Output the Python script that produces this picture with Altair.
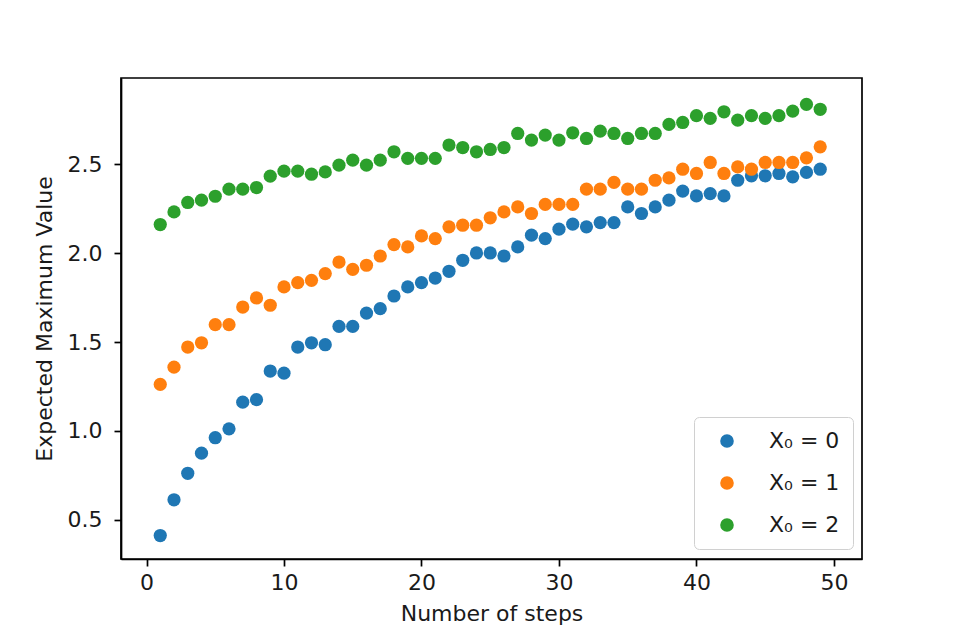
import altair as alt
import pandas as pd

steps = list(range(1, 50))

x0_0 = [0.412, 0.613, 0.762, 0.875, 0.962, 1.012, 1.162, 1.176, 1.337, 1.325,
        1.472, 1.496, 1.485, 1.588, 1.588, 1.663, 1.688, 1.759, 1.810, 1.834,
        1.860, 1.898, 1.960, 2.001, 2.001, 1.984, 2.035, 2.101, 2.082, 2.135,
        2.163, 2.148, 2.172, 2.172, 2.260, 2.223, 2.260, 2.298, 2.349, 2.322,
        2.335, 2.322, 2.410, 2.435, 2.435, 2.448, 2.429, 2.454, 2.472]

x0_1 = [1.262, 1.359, 1.472, 1.496, 1.598, 1.598, 1.697, 1.748, 1.707, 1.810,
        1.834, 1.847, 1.885, 1.950, 1.909, 1.932, 1.984, 2.048, 2.035, 2.097,
        2.082, 2.148, 2.157, 2.157, 2.199, 2.232, 2.260, 2.223, 2.274, 2.274,
        2.274, 2.360, 2.360, 2.398, 2.360, 2.360, 2.410, 2.423, 2.472, 2.448,
        2.510, 2.448, 2.485, 2.472, 2.510, 2.510, 2.510, 2.536, 2.598]

x0_2 = [2.161, 2.232, 2.285, 2.298, 2.320, 2.360, 2.360, 2.369, 2.433, 2.461,
        2.461, 2.444, 2.457, 2.495, 2.523, 2.495, 2.523, 2.570, 2.533, 2.533,
        2.533, 2.608, 2.594, 2.570, 2.583, 2.594, 2.673, 2.636, 2.664, 2.636,
        2.677, 2.645, 2.686, 2.673, 2.645, 2.673, 2.673, 2.724, 2.735, 2.773,
        2.758, 2.795, 2.748, 2.773, 2.758, 2.773, 2.799, 2.837, 2.809]

series_labels = ["X\u2080 = 0", "X\u2080 = 1", "X\u2080 = 2"]
colors = ["#1f77b4", "#ff7f0e", "#2ca02c"]
x_ticks = [0, 10, 20, 30, 40, 50]
y_ticks = [0.5, 1.0, 1.5, 2.0, 2.5]

rows = []
for lab, vals in zip(series_labels, [x0_0, x0_1, x0_2]):
    for s, v in zip(steps, vals):
        rows.append({"steps": s, "value": v, "series": lab})
df = pd.DataFrame(rows)

FONT = "DejaVu Sans"
TXT = "#1a1a1a"

chart = alt.Chart(df).mark_circle(size=175, opacity=1).encode(
    x=alt.X(
        "steps:Q",
        scale=alt.Scale(domain=[-1.855, 52.04], nice=False, zero=False),
        axis=alt.Axis(
            values=x_ticks, format="d", title="Number of steps", grid=False,
            labelFontSize=22, titleFontSize=22, titleFontWeight="normal",
            labelFont=FONT, titleFont=FONT, labelColor=TXT, titleColor=TXT,
            tickSize=7, tickWidth=1.7, tickColor="black", domainColor="black",
            domainWidth=1.7, labelPadding=6, titleY=44, titleBaseline="top",
            labelFlush=False,
        ),
    ),
    y=alt.Y(
        "value:Q",
        scale=alt.Scale(domain=[0.280, 2.985], nice=False, zero=False),
        axis=alt.Axis(
            values=y_ticks, format=".1f", title="Expected Maximum Value", grid=False,
            labelFontSize=22, titleFontSize=22, titleFontWeight="normal",
            labelFont=FONT, titleFont=FONT, labelColor=TXT, titleColor=TXT,
            tickSize=7, tickWidth=1.7, tickColor="black", domainColor="black",
            domainWidth=1.7, labelPadding=12, titleX=-77, titleBaseline="middle",
            labelFlush=False,
        ),
    ),
    color=alt.Color(
        "series:N",
        scale=alt.Scale(domain=series_labels, range=colors),
        legend=alt.Legend(
            title=None, orient="none", legendX=573, legendY=339,
            padding=13, symbolOffset=9, labelOffset=31, rowPadding=20,
            symbolSize=185, symbolType="circle", symbolStrokeWidth=0,
            labelFontSize=22, labelFont=FONT, labelColor=TXT,
            strokeColor="#d0d0d0", cornerRadius=5,
            fillColor="rgba(255,255,255,0.8)",
        ),
    ),
).properties(
    width=741,
    height=481,
    autosize=alt.AutoSizeParams(type="none"),
    padding={"left": 113, "top": 70, "right": 20, "bottom": 70},
    background="white",
).configure_view(
    stroke="black", strokeWidth=1.7
)

chart.save("out.html", embed_options={"renderer": "svg", "actions": False})
